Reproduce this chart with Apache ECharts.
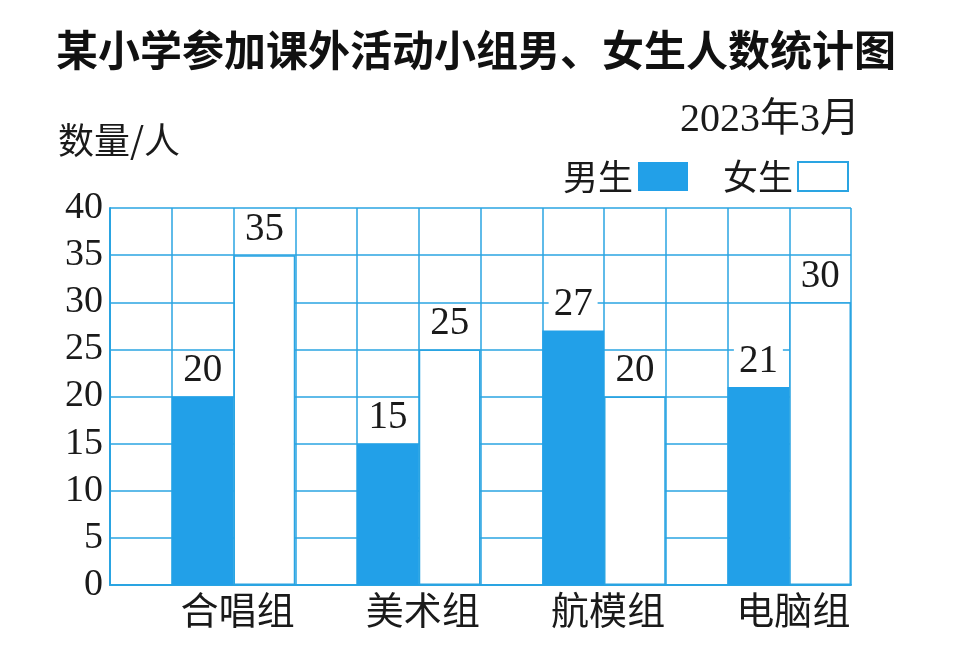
<!DOCTYPE html>
<html>
<head>
<meta charset="utf-8">
<script src="https://cdn.jsdelivr.net/npm/echarts@6/dist/echarts.min.js"></script>
<style>
html,body{margin:0;padding:0;background:#fff;}
#c{width:954px;height:647px;}
</style>
</head>
<body>
<div id="c"></div>
<script>
const categories = ['合唱组', '美术组', '航模组', '电脑组'];
const boys = [20, 15, 27, 21];
const girls = [35, 25, 20, 30];
const seriesNames = ['男生', '女生'];
const titleText = '某小学参加课外活动小组男、女生人数统计图';
const yName = '数量/人';
const dateText = '2023年3月';

const BLUE = '#2aa4e2';
const FILL = '#22a0e8';
const SERIF = 'Liberation Serif, "Noto Sans CJK SC", serif';
const CJK = '"Noto Sans CJK SC", sans-serif';

const chart = echarts.init(document.getElementById('c'), null, {renderer: 'canvas'});
const valueLabel = {
  show: true,
  position: 'top',
  distance: 6,
  fontFamily: SERIF,
  fontSize: 39,
  color: '#1a1a1a',
  backgroundColor: '#fff',
  padding: [0, 5, 0, 5]
};
chart.setOption({
  backgroundColor: '#fff',
  animation: false,
  title: [
    {text: titleText, left: 51, top: 24,
     textStyle: {fontFamily: CJK, fontSize: 42, fontWeight: 'bold', color: '#111'}},
    {text: yName, left: 53, top: 117,
     textStyle: {fontFamily: CJK, fontSize: 36, fontWeight: 'normal', color: '#1a1a1a'}},
    {text: dateText, right: 89, top: 96,
     textStyle: {fontFamily: SERIF, fontSize: 40, fontWeight: 'normal', color: '#1a1a1a'}}
  ],
  legend: {
    data: seriesNames,
    right: 100,
    top: 154,
    align: 'right',
    itemWidth: 50,
    itemHeight: 29,
    itemGap: 35,
    icon: 'rect',
    textStyle: {fontFamily: CJK, fontSize: 35, color: '#1a1a1a'}
  },
  grid: {left: 110, right: 103, top: 208, bottom: 62, containLabel: false},
  xAxis: [
    {
      type: 'category',
      data: categories,
      position: 'bottom',
      axisLine: {show: true, lineStyle: {color: BLUE, width: 2}},
      axisTick: {show: false},
      splitLine: {show: false},
      axisLabel: {fontFamily: CJK, fontSize: 38, color: '#1a1a1a', margin: 6, padding: [0, 0, 0, 70]}
    },
    {
      type: 'value',
      min: 0, max: 12, interval: 1,
      position: 'top',
      axisLine: {show: false},
      axisTick: {show: false},
      axisLabel: {show: false},
      splitLine: {show: true, lineStyle: {color: BLUE, width: 1.5}}
    }
  ],
  yAxis: {
    type: 'value',
    min: 0, max: 40, interval: 5,
    axisLine: {show: true, lineStyle: {color: BLUE, width: 2}},
    axisTick: {show: false},
    splitLine: {show: true, lineStyle: {color: BLUE, width: 1.5}},
    axisLabel: {fontFamily: SERIF, fontSize: 38, color: '#1a1a1a', margin: 7}
  },
  series: [
    {name: '_', type: 'bar', xAxisIndex: 0, data: ['-', '-', '-', '-'], silent: true,
     barGap: '0%', barCategoryGap: '0%'},
    {name: seriesNames[0], type: 'bar', xAxisIndex: 0, data: boys,
     barGap: '0%', barCategoryGap: '0%',
     itemStyle: {color: FILL},
     label: valueLabel},
    {name: seriesNames[1], type: 'bar', xAxisIndex: 0, data: girls,
     barGap: '0%', barCategoryGap: '0%',
     itemStyle: {color: '#fff', borderColor: BLUE, borderWidth: 1.5},
     label: valueLabel}
  ]
});
</script>
</body>
</html>
